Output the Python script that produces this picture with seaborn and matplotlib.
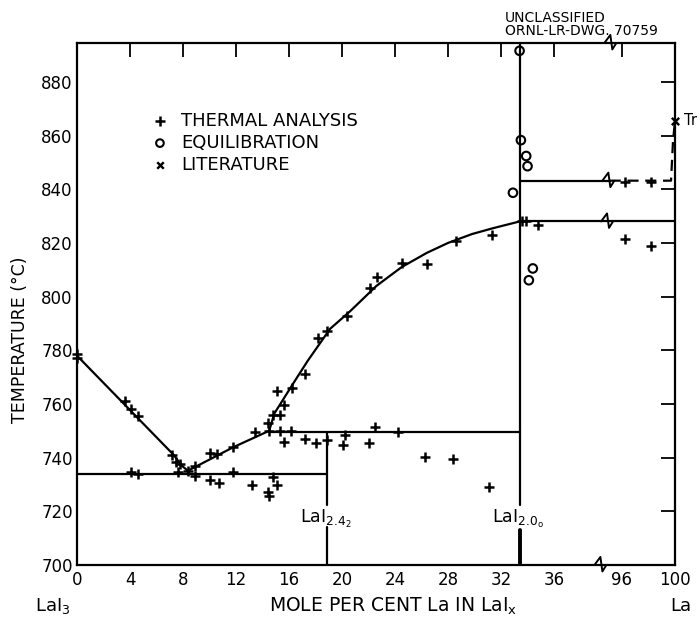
import numpy as np
import matplotlib
matplotlib.use("Agg")
import matplotlib.pyplot as plt
import seaborn as sns

# ---- measured points (mole per cent La, temperature in deg C) ----
thermal_x = [0.0, 0.0, 3.6, 4.1, 4.6, 4.1, 4.6, 7.15, 7.5, 7.75, 7.65, 8.4,
             8.9, 8.9, 10.0, 10.6, 10.0, 10.75, 11.8, 11.8, 13.2, 13.4,
             14.4, 14.5, 14.8, 15.3, 15.3, 16.15, 14.8, 15.1, 14.4, 14.5,
             15.1, 15.6, 16.2, 17.2, 15.6, 17.2, 18.0, 18.9, 20.2, 20.05,
             22.0, 22.5, 24.25, 18.2, 18.9, 20.35, 22.1, 22.65, 24.5, 26.4,
             28.6, 31.3, 33.6, 33.9, 34.8, 26.3, 28.35, 31.1,
             96.2, 98.2, 96.2, 98.2]
thermal_t = [778.5, 777.0, 761.2, 758.0, 755.5, 734.5, 734.0, 741.0, 738.5, 737.5, 734.5, 735.0,
             737.0, 733.0, 741.8, 741.2, 731.7, 730.5, 744.1, 734.8, 729.8, 749.6,
             753.0, 750.0, 755.9, 755.9, 750.0, 750.0, 732.9, 729.8, 727.3, 725.8,
             764.8, 759.6, 765.8, 771.1, 745.7, 746.8, 745.3, 746.6, 748.4, 744.7,
             745.3, 751.5, 749.6, 784.4, 787.3, 792.7, 803.2, 807.3, 812.4, 812.1,
             820.8, 822.9, 828.0, 828.2, 826.5, 740.3, 739.5, 729.0,
             821.3, 818.9, 842.8, 842.8]

equil_x = [33.4, 33.5, 33.9, 34.0, 32.9, 34.4, 34.1]
equil_t = [891.6, 858.3, 852.4, 848.6, 838.7, 810.5, 806.1]

lit_x = [100.0]
lit_t = [865.5]

# ---- phase boundaries ----
liq_a_x = [0.0, 7.3, 7.9, 8.4]
liq_a_t = [778.0, 741.0, 737.0, 735.0]
liq_b_x = [8.4, 11.8, 14.5]
liq_b_t = [735.2, 743.9, 750.0]
liq_c_x = [14.5, 14.9, 16.3, 17.4, 19.1, 20.6, 22.6, 24.5, 26.4, 28.0, 29.8, 31.4, 33.4]
liq_c_t = [750.0, 756.5, 767.5, 776.0, 788.0, 794.5, 804.0, 811.0, 816.3, 820.0, 823.3, 825.5, 828.0]

eutectic_t = 734.0
peritectic_t = 749.5
lai242_x = 18.9
lai200_x = 33.4
upper_t = 843.2
lower_t = 828.0
tr_t = 865.5

x_ticks = [0, 4, 8, 12, 16, 20, 24, 28, 32, 36, 96, 100]
y_ticks = [700, 720, 740, 760, 780, 800, 820, 840, 860, 880]

# ---- broken x axis: 36 .. 96 squeezed into a short gap ----
GAP_W = 5.13


def fwd(x):
    x = np.asarray(x, dtype=float)
    return np.where(x <= 36, x,
                    np.where(x >= 96, x - 96 + 36 + GAP_W,
                             36 + (x - 36) * GAP_W / 60.0))


def inv(u):
    u = np.asarray(u, dtype=float)
    return np.where(u <= 36, u,
                    np.where(u >= 36 + GAP_W, u - 36 - GAP_W + 96,
                             36 + (u - 36) * 60.0 / GAP_W))


sns.set_theme(style="white")
plt.rcParams["font.family"] = ["DejaVu Sans"]
plt.rcParams["mathtext.fontset"] = "dejavusans"

fig = plt.figure(figsize=(7.0, 6.19), dpi=100)
ax = fig.add_axes([77 / 700, 1 - 565 / 619, (675 - 77) / 700, (565 - 43) / 619])
ax.set_xscale("function", functions=(fwd, inv))
ax.set_xlim(0, 100)
ax.set_ylim(700, 894.5)

K = "black"
LW = 1.6

# boundaries
ax.plot(liq_a_x, liq_a_t, color=K, lw=LW)
ax.plot(liq_b_x, liq_b_t, color=K, lw=LW)
ax.plot(liq_c_x, liq_c_t, color=K, lw=LW)
ax.plot([0, lai242_x], [eutectic_t, eutectic_t], color=K, lw=LW)
ax.plot([14.5, lai200_x], [peritectic_t, peritectic_t], color=K, lw=LW)
ax.plot([lai242_x, lai242_x], [peritectic_t, 722.5], color=K, lw=LW)
ax.plot([lai242_x, lai242_x], [714.0, 700], color=K, lw=LW)
ax.plot([lai200_x, lai200_x], [894.5, 722.4], color=K, lw=LW)
ax.plot([lai200_x, lai200_x], [713.0, 700], color=K, lw=2.8)

brk_u = 40.2
brk_x = float(inv(brk_u))
ax.plot([lai200_x, 100], [lower_t, lower_t], color=K, lw=LW)
ax.plot([lai200_x, brk_x], [upper_t, upper_t], color=K, lw=LW)
ax.plot([brk_x, 99.7, 99.85, 100.0], [upper_t, upper_t, 858.0, tr_t],
        color=K, lw=LW, linestyle=(0, (5, 3)))

# break marks on the axis lines and on the long horizontals
brk_tr = ax.transLimits + ax.transAxes


def zigzag(u0, y0, h):
    xs = [u0 - 0.55, u0 - 0.1, u0 + 0.05, u0 + 0.35]
    ys = [y0, y0 + h, y0 - 0.8 * h, y0]
    ax.plot(xs, ys, color=K, lw=1.4, transform=brk_tr, clip_on=False, zorder=5)


zigzag(39.6, 700.0, 3.0)
zigzag(40.35, 894.5, 3.0)
zigzag(40.2, upper_t, 3.0)
zigzag(40.1, lower_t, 3.0)

# data points
sns.scatterplot(x=thermal_x, y=thermal_t, marker="+", s=60, color=K,
                linewidth=1.8, ax=ax, zorder=6, clip_on=False)
sns.scatterplot(x=equil_x, y=equil_t, marker="o", s=38, facecolors="none",
                edgecolors=K, linewidth=1.5, ax=ax, zorder=6, clip_on=False)
sns.scatterplot(x=lit_x, y=lit_t, marker="x", s=28, color=K,
                linewidth=1.7, ax=ax, zorder=6, clip_on=False)

# key
key_x, key_tx = 6.26, 7.85
key_rows = [865.4, 857.2, 849.0]
sns.scatterplot(x=[key_x], y=[key_rows[0]], marker="+", s=45, color=K, linewidth=1.8, ax=ax)
sns.scatterplot(x=[key_x], y=[key_rows[1]], marker="o", s=30, facecolors="none",
                edgecolors=K, linewidth=1.5, ax=ax)
sns.scatterplot(x=[key_x], y=[key_rows[2]], marker="x", s=22, color=K, linewidth=1.7, ax=ax)
for label, yy in zip(["THERMAL ANALYSIS", "EQUILIBRATION", "LITERATURE"], key_rows):
    ax.text(key_tx, yy, label, fontsize=13, va="center", ha="left", color=K)

# compound labels
ax.text(16.85, 715.8, r"LaI$_{\mathregular{2.4}_{\mathregular{2}}}$", fontsize=12.5,
        ha="left", va="baseline", color=K)
ax.text(31.3, 715.8, r"LaI$_{\mathregular{2.0}_{\mathregular{o}}}$", fontsize=12.5,
        ha="left", va="baseline", color=K)
ax.text(100.65, tr_t, "Tr", fontsize=10.5, ha="left", va="center", color=K, clip_on=False)

# axes styling
ax.set_xticks(x_ticks)
ax.set_xticklabels([str(v) for v in x_ticks])
ax.set_yticks(y_ticks)
ax.set_yticklabels([str(v) for v in y_ticks])
ax.tick_params(axis="both", direction="in", length=10, width=1.3, colors=K,
               labelsize=12, top=True, right=True, labeltop=False, labelright=False)
ax.tick_params(axis="x", pad=4)
ax.tick_params(axis="y", pad=3)
for sp in ax.spines.values():
    sp.set_color(K)
    sp.set_linewidth(1.6)
ax.set_xlabel("")
ax.set_ylabel("")
ax.grid(False)

fig.text(20 / 700, 1 - 340 / 619, "TEMPERATURE (°C)", rotation=90, fontsize=12.5,
         ha="center", va="center", color=K)
fig.text(393 / 700, 1 - 606 / 619, r"MOLE PER CENT La IN LaI$_{\mathregular{x}}$",
         fontsize=13.5, ha="center", va="center", color=K)
fig.text(53 / 700, 1 - 606 / 619, r"LaI$_{\mathregular{3}}$", fontsize=13,
         ha="center", va="center", color=K)
fig.text(681 / 700, 1 - 606 / 619, "La", fontsize=13, ha="center", va="center", color=K)
fig.text(505 / 700, 1 - 22 / 619, "UNCLASSIFIED", fontsize=10, ha="left",
         va="baseline", color=K)
fig.text(505 / 700, 1 - 35 / 619, "ORNL-LR-DWG. 70759", fontsize=10, ha="left",
         va="baseline", color=K)

fig.savefig("out.png", dpi=100, facecolor="white")
